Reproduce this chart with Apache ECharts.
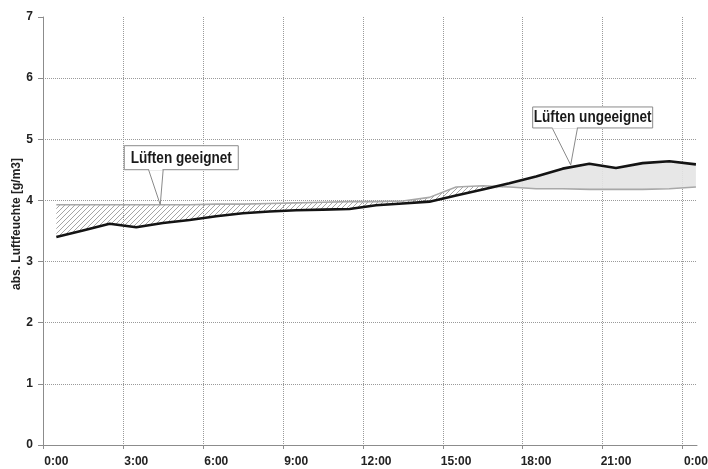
<!DOCTYPE html>
<html><head><meta charset="utf-8">
<script src="https://cdn.jsdelivr.net/npm/echarts@6/dist/echarts.min.js"></script>
<style>html,body{margin:0;padding:0;background:#fff}#c{width:708px;height:469px}</style>
</head><body><div id="c"></div>
<script>
// ---- data ----
const hours = ['0','1','2','3','4','5','6','7','8','9','10','11','12','13','14','15','16','17','18','19','20','21','22','23','24'];
const labelHours = [0,3,6,9,12,15,18,21,24];
const tickLabels = ['0:00','3:00','6:00','9:00','12:00','15:00','18:00','21:00','0:00'];
const gridHours = [-0.5,2.5,5.5,8.5,11.5,14.5,17.5,20.5,23.5];
const yGridValues = [1,2,3,4,5,6];
// black line (outdoor)
const aussen = [3.40,3.51,3.62,3.56,3.63,3.68,3.74,3.79,3.82,3.84,3.85,3.86,3.92,3.95,3.98,4.08,4.18,4.28,4.39,4.52,4.60,4.53,4.61,4.64,4.59];
// grey line (indoor)
const innen = [3.93,3.93,3.93,3.93,3.93,3.93,3.94,3.94,3.95,3.96,3.97,3.98,3.98,3.99,4.05,4.22,4.24,4.22,4.19,4.19,4.18,4.18,4.18,4.19,4.22];
const notes = [
  {text:'Lüften geeignet', tip:[3.9, 3.93]},
  {text:'Lüften ungeeignet', tip:[19.3, 4.58]}
];
// ---- layout ----
const noteLayout = [
  {left:-36, top:-59, w:114, h:24, b1:-12, b2:3},
  {left:-38, top:-58, w:120, h:21, b1:-19, b2:7}
];
const FONT = '"Liberation Sans", Arial, sans-serif';
const X0 = -0.5, X1 = 24.04, GL = 43, GR = 11, W = 708;
const pxPerH = (W - GL - GR) / (X1 - X0);
const dataLeft = GL + (0 - X0) * pxPerH;
const dataRight = W - (GL + (24 - X0) * pxPerH);

const lo = aussen.map((v,i)=>Math.min(innen[i], v));
const hatchBand = aussen.map((v,i)=>Math.max(innen[i]-v,0));
const lightBand = aussen.map((v,i)=>Math.max(v-innen[i],0));

function hatchPattern(){
  const c=document.createElement('canvas'); c.width=5; c.height=5;
  const g=c.getContext('2d'); g.strokeStyle='#8e8e8e'; g.lineWidth=0.8;
  g.beginPath();
  g.moveTo(0,5); g.lineTo(5,0);
  g.moveTo(-1,1); g.lineTo(1,-1);
  g.moveTo(4,6); g.lineTo(6,4);
  g.stroke();
  return c;
}

const chart = echarts.init(document.getElementById('c'), null, {renderer:'canvas'});
const axisColor = '#8c8c8c';
const gridLine = {show:true, lineStyle:{type:'dotted', color:'#9a9a9a', width:1}};
const labelStyle = {fontFamily:FONT, fontWeight:'bold', fontSize:12, color:'#222'};
const hidden = {symbol:'none', lineStyle:{opacity:0}, silent:true, xAxisIndex:1, yAxisIndex:1};

chart.setOption({
  animation:false,
  backgroundColor:'#fff',
  grid:[
    {left:GL, right:GR, top:17, bottom:24, containLabel:false, outerBoundsMode:'none'},
    {left:dataLeft, right:dataRight, top:17, bottom:24, containLabel:false, outerBoundsMode:'none'}
  ],
  xAxis:[{
    type:'value', min:X0, max:X1, gridIndex:0,
    axisLine:{show:true, onZero:false, lineStyle:{color:axisColor}},
    axisTick:{show:true, customValues:gridHours, length:4, lineStyle:{color:axisColor}},
    axisLabel:Object.assign({customValues:labelHours, margin:11,
      formatter:v=>tickLabels[labelHours.indexOf(v)]}, labelStyle),
    splitLine:gridLine
  },{
    type:'category', data:hours, boundaryGap:false, gridIndex:1, show:false
  }],
  yAxis:[{
    type:'value', min:0, max:7, interval:1, gridIndex:0,
    name:'abs. Luftfeuchte [g/m3]', nameLocation:'middle', nameGap:20, nameMoveOverlap:false,
    nameTextStyle:{fontFamily:FONT, fontWeight:'bold', fontSize:12, color:'#222', padding:[0,0,0,14]},
    axisLine:{show:true, onZero:false, lineStyle:{color:axisColor}},
    axisTick:{show:true, length:5, lineStyle:{color:axisColor}},
    axisLabel:Object.assign({margin:10}, labelStyle),
    splitLine:{show:false}
  },{
    type:'value', min:0, max:7, gridIndex:1, show:false, splitLine:{show:false}
  },{
    type:'value', min:0, max:7, gridIndex:0, position:'left',
    axisLine:{show:false}, axisLabel:{show:false},
    axisTick:{show:false, customValues:yGridValues},
    splitLine:gridLine
  }],
  series:[
    Object.assign({type:'line', data:lo, stack:'h'}, hidden),
    Object.assign({type:'line', data:hatchBand, stack:'h',
      areaStyle:{color:{image:hatchPattern(), repeat:'repeat'}, opacity:1}}, hidden),
    Object.assign({type:'line', data:lo, stack:'l'}, hidden),
    Object.assign({type:'line', data:lightBand, stack:'l',
      areaStyle:{color:'#e4e4e4', opacity:0.9}}, hidden),
    {type:'line', name:'innen', data:innen, symbol:'none', xAxisIndex:1, yAxisIndex:1,
      lineStyle:{color:'#a8a8a8', width:1.6}},
    {type:'line', name:'aussen', data:aussen, symbol:'none', xAxisIndex:1, yAxisIndex:1,
      lineStyle:{color:'#141414', width:2.6}}
  ]
});

const gfx = [];
notes.forEach((n,i)=>{
  const L = noteLayout[i];
  const p = chart.convertToPixel({xAxisIndex:0, yAxisIndex:0}, n.tip);
  const bx = p[0]+L.left, by = p[1]+L.top;
  const bottom = by+L.h;
  gfx.push({type:'polygon', z:100, shape:{points:[[p[0]+L.b1,bottom-1],[p[0],p[1]],[p[0]+L.b2,bottom-1]]},
    style:{fill:'#fff', stroke:'#8a8a8a', lineWidth:1}});
  gfx.push({type:'rect', z:101, shape:{x:bx, y:by, width:L.w, height:L.h},
    style:{fill:'#fff', stroke:'#8a8a8a', lineWidth:1}});
  gfx.push({type:'rect', z:102, shape:{x:p[0]+L.b1+0.8, y:bottom-1.5, width:L.b2-L.b1-1.6, height:2},
    style:{fill:'#fff'}});
  gfx.push({type:'text', z:103, x:bx+L.w/2, y:by+L.h/2+0.5, scaleX:0.85, originX:0, originY:0,
    style:{text:n.text, fill:'#1a1a1a', font:'bold 16px '+FONT, align:'center', verticalAlign:'middle'}});
});
chart.setOption({graphic:gfx});
</script>
</body></html>
